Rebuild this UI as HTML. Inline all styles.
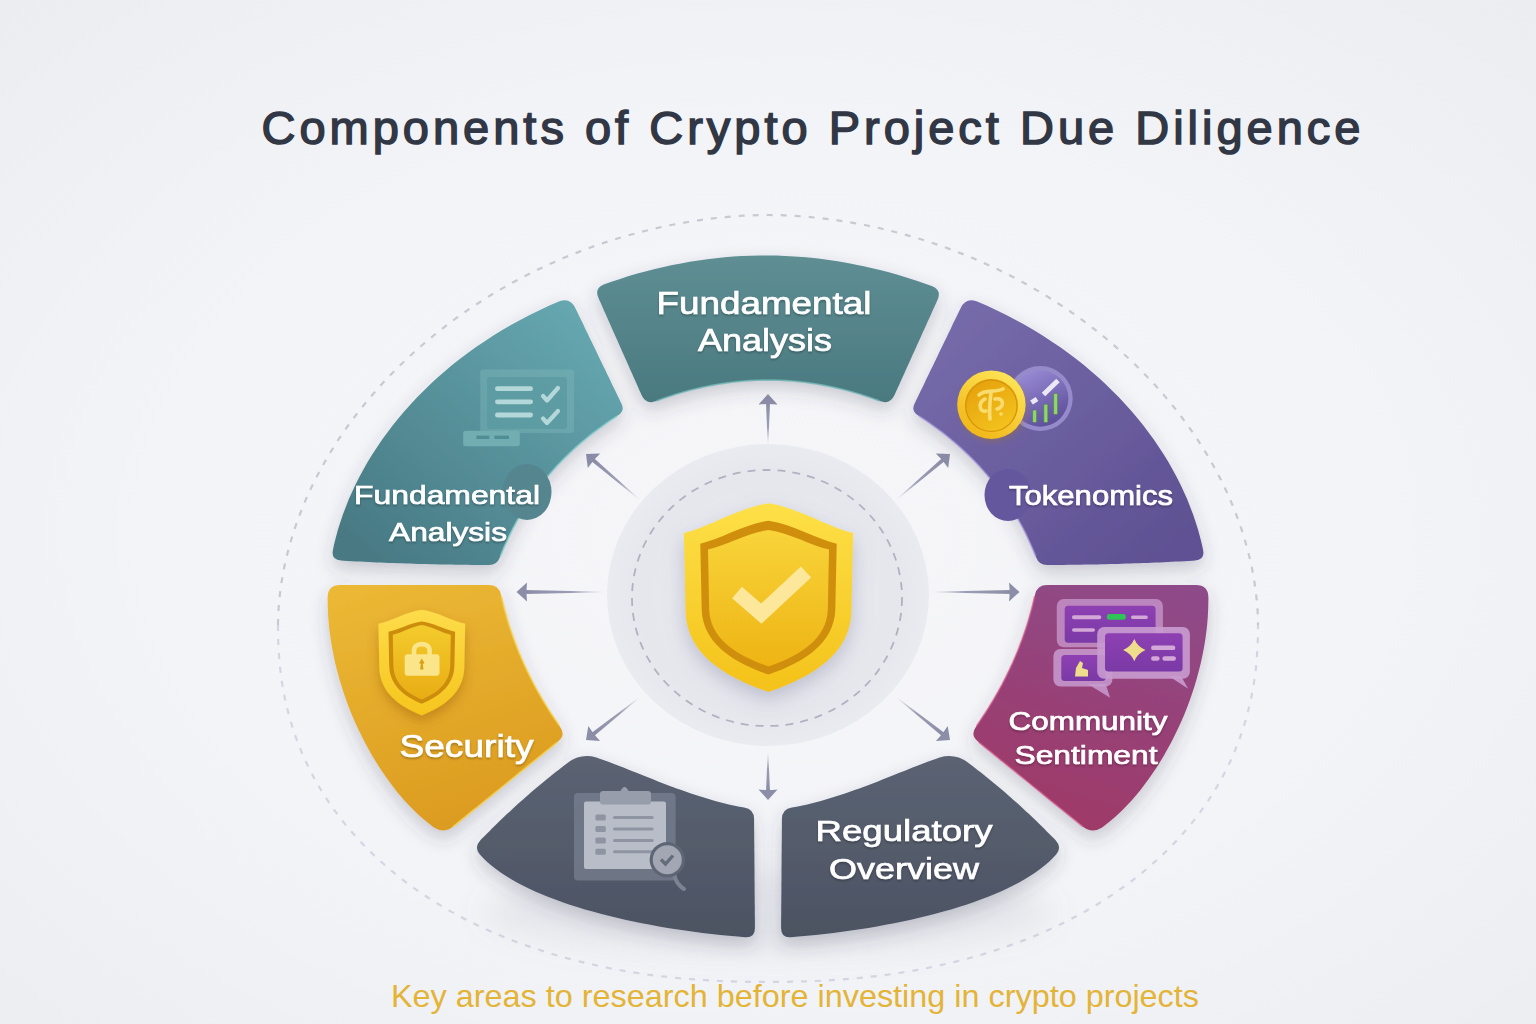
<!DOCTYPE html>
<html><head><meta charset="utf-8">
<style>
html,body{margin:0;padding:0;width:1536px;height:1024px;overflow:hidden;background:#f2f3f6;}
svg{display:block;font-family:"Liberation Sans", sans-serif;}
</style></head>
<body>
<svg width="1536" height="1024" viewBox="0 0 1536 1024">
<defs>
  <radialGradient id="bg" cx="50%" cy="52%" r="72%">
    <stop offset="0" stop-color="#f6f6f9"/>
    <stop offset="0.55" stop-color="#f3f4f7"/>
    <stop offset="1" stop-color="#ecedf1"/>
  </radialGradient>
  <filter id="sh" x="-20%" y="-20%" width="140%" height="150%">
    <feDropShadow dx="0" dy="8" stdDeviation="9" flood-color="#3a3f55" flood-opacity="0.24"/>
  </filter>
  <filter id="sh2" x="-30%" y="-30%" width="160%" height="160%">
    <feDropShadow dx="0" dy="8" stdDeviation="10" flood-color="#6b6f90" flood-opacity="0.35"/>
  </filter>
  <filter id="tsh" x="-10%" y="-30%" width="120%" height="160%">
    <feDropShadow dx="0" dy="1.5" stdDeviation="1" flood-color="#000" flood-opacity="0.3"/>
  </filter>
  <filter id="blur6"><feGaussianBlur stdDeviation="6"/></filter>
  <linearGradient id="gT" gradientUnits="userSpaceOnUse" x1="0" y1="257" x2="0" y2="403">
    <stop offset="0" stop-color="#5e8e93"/><stop offset="1" stop-color="#4a7980"/>
  </linearGradient>
  <linearGradient id="gTL" gradientUnits="userSpaceOnUse" x1="600" y1="310" x2="380" y2="560">
    <stop offset="0" stop-color="#67a9b2"/><stop offset="1" stop-color="#487a84"/>
  </linearGradient>
  <linearGradient id="gTR" gradientUnits="userSpaceOnUse" x1="936" y1="310" x2="1156" y2="560">
    <stop offset="0" stop-color="#776cab"/><stop offset="1" stop-color="#5f5193"/>
  </linearGradient>
  <linearGradient id="gL" gradientUnits="userSpaceOnUse" x1="340" y1="585" x2="420" y2="831">
    <stop offset="0" stop-color="#ecb935"/><stop offset="1" stop-color="#dc9c20"/>
  </linearGradient>
  <linearGradient id="gR" gradientUnits="userSpaceOnUse" x1="1196" y1="585" x2="1116" y2="831">
    <stop offset="0" stop-color="#8e4b8a"/><stop offset="1" stop-color="#9e3a69"/>
  </linearGradient>
  <linearGradient id="gB" x1="0" y1="0" x2="0" y2="1">
    <stop offset="0" stop-color="#5b6373"/><stop offset="1" stop-color="#4c5363"/>
  </linearGradient>
  <linearGradient id="gShield" x1="0" y1="0" x2="0" y2="1">
    <stop offset="0" stop-color="#fde047"/><stop offset="1" stop-color="#f4c21a"/>
  </linearGradient>
  <linearGradient id="gShieldIn" x1="0" y1="0" x2="0" y2="1">
    <stop offset="0" stop-color="#f8d43a"/><stop offset="1" stop-color="#eeb414"/>
  </linearGradient>
  <radialGradient id="gCenter" cx="50%" cy="50%" r="50%">
    <stop offset="0" stop-color="#eaebf0"/><stop offset="0.8" stop-color="#e6e7ed"/><stop offset="1" stop-color="#eaebf0"/>
  </radialGradient>
  <linearGradient id="gChart" x1="0.2" y1="0" x2="0.7" y2="1">
    <stop offset="0" stop-color="#9a8cd6"/><stop offset="1" stop-color="#5c4d98"/>
  </linearGradient>
  <linearGradient id="gCoin" x1="0.8" y1="0" x2="0.2" y2="1">
    <stop offset="0" stop-color="#fee75a"/><stop offset="1" stop-color="#f0b414"/>
  </linearGradient>
  <linearGradient id="gCoinIn" x1="0.2" y1="0" x2="0.8" y2="1">
    <stop offset="0" stop-color="#e5a10c"/><stop offset="1" stop-color="#f4c41e"/>
  </linearGradient>
  <linearGradient id="gShieldS" x1="0" y1="0" x2="0" y2="1">
    <stop offset="0" stop-color="#fddc4a"/><stop offset="1" stop-color="#f6c51d"/>
  </linearGradient>
  <linearGradient id="gShieldSIn" x1="0" y1="0" x2="0" y2="1">
    <stop offset="0" stop-color="#f3cb2c"/><stop offset="1" stop-color="#e9ad14"/>
  </linearGradient>
  <linearGradient id="gBub" x1="0" y1="0" x2="0" y2="1">
    <stop offset="0" stop-color="#8e40b2"/><stop offset="1" stop-color="#7a3aa6"/>
  </linearGradient>
  <filter id="sh3" x="-40%" y="-40%" width="180%" height="180%">
    <feDropShadow dx="0" dy="6" stdDeviation="6" flood-color="#8a4a00" flood-opacity="0.35"/>
  </filter>
<linearGradient id="ag0" gradientUnits="userSpaceOnUse" x1="768.0" y1="404.5" x2="768.0" y2="445.0"><stop offset="0" stop-color="#8c8ea8"/><stop offset="0.55" stop-color="#8c8ea8" stop-opacity="0.85"/><stop offset="1" stop-color="#8c8ea8" stop-opacity="0"/></linearGradient><linearGradient id="ag1" gradientUnits="userSpaceOnUse" x1="594.0" y1="460.8" x2="640.0" y2="500.0"><stop offset="0" stop-color="#8c8ea8"/><stop offset="0.55" stop-color="#8c8ea8" stop-opacity="0.85"/><stop offset="1" stop-color="#8c8ea8" stop-opacity="0"/></linearGradient><linearGradient id="ag2" gradientUnits="userSpaceOnUse" x1="942.0" y1="460.8" x2="896.0" y2="500.0"><stop offset="0" stop-color="#8c8ea8"/><stop offset="0.55" stop-color="#8c8ea8" stop-opacity="0.85"/><stop offset="1" stop-color="#8c8ea8" stop-opacity="0"/></linearGradient><linearGradient id="ag3" gradientUnits="userSpaceOnUse" x1="527.0" y1="592.0" x2="606.0" y2="592.0"><stop offset="0" stop-color="#8c8ea8"/><stop offset="0.55" stop-color="#8c8ea8" stop-opacity="0.85"/><stop offset="1" stop-color="#8c8ea8" stop-opacity="0"/></linearGradient><linearGradient id="ag4" gradientUnits="userSpaceOnUse" x1="1009.0" y1="592.0" x2="930.0" y2="592.0"><stop offset="0" stop-color="#8c8ea8"/><stop offset="0.55" stop-color="#8c8ea8" stop-opacity="0.85"/><stop offset="1" stop-color="#8c8ea8" stop-opacity="0"/></linearGradient><linearGradient id="ag5" gradientUnits="userSpaceOnUse" x1="594.2" y1="733.5" x2="640.0" y2="697.0"><stop offset="0" stop-color="#8c8ea8"/><stop offset="0.55" stop-color="#8c8ea8" stop-opacity="0.85"/><stop offset="1" stop-color="#8c8ea8" stop-opacity="0"/></linearGradient><linearGradient id="ag6" gradientUnits="userSpaceOnUse" x1="941.8" y1="733.5" x2="896.0" y2="697.0"><stop offset="0" stop-color="#8c8ea8"/><stop offset="0.55" stop-color="#8c8ea8" stop-opacity="0.85"/><stop offset="1" stop-color="#8c8ea8" stop-opacity="0"/></linearGradient><linearGradient id="ag7" gradientUnits="userSpaceOnUse" x1="768.0" y1="789.5" x2="768.0" y2="752.0"><stop offset="0" stop-color="#8c8ea8"/><stop offset="0.55" stop-color="#8c8ea8" stop-opacity="0.85"/><stop offset="1" stop-color="#8c8ea8" stop-opacity="0"/></linearGradient>
  <filter id="blur3" x="-50%" y="-50%" width="200%" height="200%"><feGaussianBlur stdDeviation="3"/></filter>
  <filter id="blur14" x="-50%" y="-100%" width="200%" height="300%"><feGaussianBlur stdDeviation="14"/></filter>
</defs>
<rect width="1536" height="1024" fill="url(#bg)"/>

<!-- title -->
<text x="811" y="144" font-size="47" fill="#313745" stroke="#313745" stroke-width="1.5" text-anchor="middle" textLength="1099" lengthAdjust="spacing">Components of Crypto Project Due Diligence</text>

<!-- outer dashed egg -->
<path d="M278.0,625.0 L278.1,618.5 L278.4,611.4 L278.9,604.2 L279.6,596.9 L280.5,589.4 L281.6,581.9 L282.9,574.4 L284.3,566.8 L286.0,559.2 L287.9,551.6 L290.0,544.0 L292.2,536.3 L294.7,528.7 L297.3,521.1 L300.2,513.5 L303.2,505.9 L306.4,498.3 L309.8,490.8 L313.4,483.3 L317.2,475.8 L321.1,468.4 L325.3,461.0 L329.6,453.7 L334.1,446.4 L338.7,439.2 L343.5,432.1 L348.5,425.0 L353.7,418.0 L359.0,411.0 L364.5,404.2 L370.2,397.4 L376.0,390.7 L381.9,384.0 L388.1,377.5 L394.3,371.1 L400.7,364.7 L407.3,358.5 L414.0,352.3 L420.8,346.3 L427.8,340.3 L434.9,334.5 L442.1,328.8 L449.4,323.2 L456.9,317.7 L464.5,312.3 L472.2,307.1 L480.0,302.0 L487.9,297.0 L495.9,292.1 L504.1,287.4 L512.3,282.8 L520.6,278.3 L529.0,274.0 L537.4,269.8 L546.0,265.8 L554.6,261.9 L563.3,258.1 L572.0,254.5 L580.9,251.1 L589.7,247.8 L598.6,244.6 L607.6,241.6 L616.6,238.8 L625.7,236.1 L634.7,233.6 L643.8,231.2 L652.9,229.0 L662.0,226.9 L671.2,225.0 L680.3,223.3 L689.4,221.7 L698.5,220.3 L707.5,219.1 L716.5,218.0 L725.5,217.1 L734.4,216.3 L743.1,215.7 L751.8,215.3 L760.2,215.1 L768.0,215.0 L775.8,215.1 L784.2,215.3 L792.9,215.7 L801.6,216.3 L810.5,217.1 L819.5,218.0 L828.5,219.1 L837.5,220.3 L846.6,221.7 L855.7,223.3 L864.8,225.0 L874.0,226.9 L883.1,229.0 L892.2,231.2 L901.3,233.6 L910.3,236.1 L919.4,238.8 L928.4,241.6 L937.4,244.6 L946.3,247.8 L955.1,251.1 L964.0,254.5 L972.7,258.1 L981.4,261.9 L990.0,265.8 L998.6,269.8 L1007.0,274.0 L1015.4,278.3 L1023.7,282.8 L1031.9,287.4 L1040.1,292.1 L1048.1,297.0 L1056.0,302.0 L1063.8,307.1 L1071.5,312.3 L1079.1,317.7 L1086.6,323.2 L1093.9,328.8 L1101.1,334.5 L1108.2,340.3 L1115.2,346.3 L1122.0,352.3 L1128.7,358.5 L1135.3,364.7 L1141.7,371.1 L1147.9,377.5 L1154.1,384.0 L1160.0,390.7 L1165.8,397.4 L1171.5,404.2 L1177.0,411.0 L1182.3,418.0 L1187.5,425.0 L1192.5,432.1 L1197.3,439.2 L1201.9,446.4 L1206.4,453.7 L1210.7,461.0 L1214.9,468.4 L1218.8,475.8 L1222.6,483.3 L1226.2,490.8 L1229.6,498.3 L1232.8,505.9 L1235.8,513.5 L1238.7,521.1 L1241.3,528.7 L1243.8,536.3 L1246.0,544.0 L1248.1,551.6 L1250.0,559.2 L1251.7,566.8 L1253.1,574.4 L1254.4,581.9 L1255.5,589.4 L1256.4,596.9 L1257.1,604.2 L1257.6,611.4 L1257.9,618.5 L1258.0,625.0" fill="none" stroke="#c8c9d3" stroke-width="2.2" stroke-dasharray="6 8"/>
<path d="M278.0,625.0 L278.1,635.0 L278.3,643.8 L278.8,652.2 L279.4,660.3 L280.1,668.2 L281.1,676.0 L282.2,683.6 L283.5,691.1 L284.9,698.5 L286.6,705.8 L288.4,713.0 L290.3,720.1 L292.5,727.2 L294.8,734.1 L297.2,741.0 L299.9,747.7 L302.6,754.5 L305.6,761.1 L308.7,767.6 L312.0,774.1 L315.5,780.5 L319.1,786.8 L322.9,793.0 L326.8,799.1 L330.9,805.2 L335.1,811.2 L339.5,817.1 L344.1,822.9 L348.8,828.6 L353.7,834.2 L358.7,839.8 L363.9,845.2 L369.2,850.6 L374.6,855.9 L380.3,861.0 L386.0,866.1 L391.9,871.1 L397.9,876.0 L404.1,880.8 L410.4,885.5 L416.9,890.1 L423.5,894.6 L430.2,899.0 L437.0,903.3 L444.0,907.5 L451.1,911.6 L458.4,915.6 L465.7,919.4 L473.2,923.2 L480.8,926.9 L488.6,930.4 L496.4,933.8 L504.4,937.2 L512.5,940.4 L520.7,943.5 L529.0,946.4 L537.4,949.3 L546.0,952.1 L554.6,954.7 L563.4,957.2 L572.2,959.6 L581.2,961.9 L590.3,964.0 L599.5,966.1 L608.8,968.0 L618.3,969.8 L627.8,971.5 L637.4,973.0 L647.2,974.5 L657.1,975.8 L667.1,976.9 L677.3,978.0 L687.6,978.9 L698.0,979.7 L708.7,980.4 L719.5,981.0 L730.7,981.4 L742.2,981.7 L754.2,981.9 L768.0,982.0 L781.8,981.9 L793.8,981.7 L805.3,981.4 L816.5,981.0 L827.3,980.4 L838.0,979.7 L848.4,978.9 L858.7,978.0 L868.9,976.9 L878.9,975.8 L888.8,974.5 L898.6,973.0 L908.2,971.5 L917.7,969.8 L927.2,968.0 L936.5,966.1 L945.7,964.0 L954.8,961.9 L963.8,959.6 L972.6,957.2 L981.4,954.7 L990.0,952.1 L998.6,949.3 L1007.0,946.4 L1015.3,943.5 L1023.5,940.4 L1031.6,937.2 L1039.6,933.8 L1047.4,930.4 L1055.2,926.9 L1062.8,923.2 L1070.3,919.4 L1077.6,915.6 L1084.9,911.6 L1092.0,907.5 L1099.0,903.3 L1105.8,899.0 L1112.5,894.6 L1119.1,890.1 L1125.6,885.5 L1131.9,880.8 L1138.1,876.0 L1144.1,871.1 L1150.0,866.1 L1155.7,861.0 L1161.4,855.9 L1166.8,850.6 L1172.1,845.2 L1177.3,839.8 L1182.3,834.2 L1187.2,828.6 L1191.9,822.9 L1196.5,817.1 L1200.9,811.2 L1205.1,805.2 L1209.2,799.1 L1213.1,793.0 L1216.9,786.8 L1220.5,780.5 L1224.0,774.1 L1227.3,767.6 L1230.4,761.1 L1233.4,754.5 L1236.1,747.7 L1238.8,741.0 L1241.2,734.1 L1243.5,727.2 L1245.7,720.1 L1247.6,713.0 L1249.4,705.8 L1251.1,698.5 L1252.5,691.1 L1253.8,683.6 L1254.9,676.0 L1255.9,668.2 L1256.6,660.3 L1257.2,652.2 L1257.7,643.8 L1257.9,635.0 L1258.0,625.0" fill="none" stroke="#d3d6e2" stroke-width="2.2" stroke-dasharray="6 8"/>

<!-- center -->
<ellipse cx="768" cy="595" rx="161" ry="151" fill="url(#gCenter)"/>
<ellipse cx="767" cy="598" rx="135" ry="128" fill="none" stroke="#afb2c0" stroke-width="1.8" stroke-dasharray="8 7"/>

<!-- arrows -->
<path d="M770.0,402.5 L768.3,445.0 L767.7,445.0 L766.0,402.5 Z" fill="url(#ag0)"/><path d="M768.0,394.0 L777.5,404.5 Q768.0,403.3 758.5,404.5 Z" fill="#8c8ea8"/><path d="M593.8,458.0 L640.2,499.8 L639.8,500.2 L591.2,461.0 Z" fill="url(#ag1)"/><path d="M586.0,454.0 L600.2,453.6 Q593.1,460.0 587.8,468.0 Z" fill="#8c8ea8"/><path d="M944.8,461.0 L896.2,500.2 L895.8,499.8 L942.2,458.0 Z" fill="url(#ag2)"/><path d="M950.0,454.0 L948.2,468.0 Q942.9,460.0 935.8,453.6 Z" fill="#8c8ea8"/><path d="M525.0,590.0 L606.0,591.7 L606.0,592.3 L525.0,594.0 Z" fill="url(#ag3)"/><path d="M516.5,592.0 L527.0,582.5 Q525.8,592.0 527.0,601.5 Z" fill="#8c8ea8"/><path d="M1011.0,594.0 L930.0,592.3 L930.0,591.7 L1011.0,590.0 Z" fill="url(#ag4)"/><path d="M1019.5,592.0 L1009.0,601.5 Q1010.2,592.0 1009.0,582.5 Z" fill="#8c8ea8"/><path d="M591.4,733.1 L639.8,696.8 L640.2,697.2 L593.9,736.3 Z" fill="url(#ag5)"/><path d="M586.0,740.0 L588.3,726.0 Q593.3,734.2 600.1,740.9 Z" fill="#8c8ea8"/><path d="M942.1,736.3 L895.8,697.2 L896.2,696.8 L944.6,733.1 Z" fill="url(#ag6)"/><path d="M950.0,740.0 L935.9,740.9 Q942.7,734.2 947.7,726.0 Z" fill="#8c8ea8"/><path d="M766.0,791.5 L767.7,752.0 L768.3,752.0 L770.0,791.5 Z" fill="url(#ag7)"/><path d="M768.0,800.0 L758.5,789.5 Q768.0,790.7 777.5,789.5 Z" fill="#8c8ea8"/>

<!-- soft ground shadow -->
<ellipse cx="768" cy="912" rx="285" ry="42" fill="#8d92ad" fill-opacity="0.14" filter="url(#blur14)"/>
<!-- segments -->
<g filter="url(#sh)">
<path d="M598.5,298.1 Q594.0,288.0 604.3,284.2 L611.4,281.7 620.1,278.9 628.8,276.1 637.5,273.6 646.2,271.2 654.9,269.0 663.6,267.0 672.3,265.1 681.0,263.4 689.7,261.8 698.4,260.5 707.1,259.3 715.8,258.2 724.5,257.3 733.2,256.6 741.9,256.1 750.6,255.7 759.3,255.5 768.0,255.5 776.7,255.6 785.4,255.9 794.1,256.4 802.8,257.0 811.5,257.8 820.2,258.8 828.9,260.0 837.6,261.3 846.3,262.7 855.0,264.4 863.7,266.2 872.4,268.2 881.1,270.3 889.8,272.6 898.5,275.1 907.2,277.7 915.9,280.6 924.6,283.5 931.7,286.1 Q942.0,290.0 937.5,300.0 L936.8,301.5 935.5,304.4 934.2,307.2 932.9,310.1 931.6,313.0 930.3,315.9 929.0,318.8 927.7,321.6 926.4,324.5 925.1,327.4 923.8,330.2 922.5,333.1 921.2,336.0 919.9,338.9 918.6,341.8 917.3,344.6 916.0,347.5 914.7,350.4 913.4,353.2 912.1,356.1 910.8,359.0 909.5,361.9 908.2,364.8 906.9,367.6 905.6,370.5 904.3,373.4 903.0,376.2 901.7,379.1 900.4,382.0 899.1,384.9 897.8,387.8 896.5,390.6 895.2,393.5 894.5,395.0 Q890.0,405.0 879.8,401.0 L877.8,400.2 871.7,398.1 865.6,396.0 859.5,394.1 853.4,392.2 847.3,390.6 841.2,389.0 835.1,387.6 829.0,386.2 822.9,385.1 816.8,384.0 810.7,383.1 804.6,382.2 798.5,381.6 792.4,381.0 786.3,380.6 780.2,380.3 774.1,380.1 768.0,380.0 761.9,380.1 755.8,380.2 749.7,380.6 743.6,381.0 737.5,381.6 731.4,382.2 725.3,383.1 719.2,384.0 713.1,385.1 707.0,386.2 700.9,387.6 694.8,389.0 688.7,390.6 682.6,392.2 676.5,394.1 670.4,396.0 664.3,398.1 658.2,400.2 656.2,401.0 Q646.0,405.0 641.5,394.9 L640.8,393.3 639.5,390.4 638.2,387.4 636.9,384.5 635.6,381.6 634.3,378.7 633.0,375.8 631.7,372.8 630.4,369.9 629.1,367.0 627.8,364.1 626.5,361.1 625.2,358.2 623.9,355.3 622.6,352.4 621.3,349.4 620.0,346.5 618.7,343.6 617.4,340.6 616.1,337.7 614.8,334.8 613.5,331.9 612.2,328.9 610.9,326.0 609.6,323.1 608.3,320.2 607.0,317.2 605.7,314.3 604.4,311.4 603.1,308.5 601.8,305.6 600.5,302.6 599.2,299.7 598.5,298.1 Z" fill="url(#gT)"/>
<path d="M558.9,301.5 Q570.0,297.0 575.2,307.8 L575.5,308.4 576.9,311.2 578.2,314.1 579.6,316.9 581.0,319.8 582.4,322.6 583.8,325.5 585.1,328.4 586.5,331.2 587.9,334.1 589.2,336.9 590.6,339.8 592.0,342.6 593.4,345.4 594.8,348.3 596.1,351.1 597.5,354.0 598.9,356.9 600.2,359.7 601.6,362.6 603.0,365.4 604.4,368.2 605.8,371.1 607.1,373.9 608.5,376.8 609.9,379.6 611.2,382.5 612.6,385.4 614.0,388.2 615.4,391.1 616.8,393.9 618.1,396.8 619.5,399.6 620.9,402.4 621.5,403.8 Q625.0,411.0 618.2,415.2 L615.8,416.8 611.4,419.7 607.0,422.7 602.7,425.8 598.4,428.9 594.2,432.0 590.1,435.2 586.1,438.5 582.1,441.8 578.2,445.2 574.4,448.6 570.7,452.1 567.0,455.6 563.4,459.1 559.9,462.8 556.4,466.4 553.0,470.2 549.7,473.9 546.5,477.8 543.3,481.6 540.2,485.6 537.2,489.5 534.3,493.6 531.4,497.6 528.6,501.8 525.9,506.0 523.2,510.2 520.6,514.5 518.1,518.8 515.7,523.2 513.3,527.6 511.0,532.1 508.8,536.7 506.7,541.3 504.6,545.9 502.6,550.6 500.6,555.4 499.8,557.5 Q497.0,565.0 489.0,565.0 L488.7,565.0 484.6,565.0 480.4,565.0 476.2,564.9 472.1,564.9 467.9,564.8 463.8,564.8 459.7,564.7 455.5,564.7 451.4,564.6 447.2,564.5 443.1,564.5 438.9,564.4 434.8,564.3 430.6,564.2 426.4,564.1 422.3,564.0 418.1,563.9 414.0,563.8 409.8,563.6 405.7,563.5 401.6,563.3 397.4,563.2 393.2,563.0 389.1,562.9 384.9,562.7 380.8,562.5 376.7,562.4 372.5,562.2 368.4,562.0 364.2,561.8 360.1,561.6 355.9,561.4 351.8,561.2 347.6,561.0 343.4,560.7 341.0,560.6 Q331.0,560.0 332.9,550.2 L334.0,544.8 335.9,537.2 338.0,529.6 340.4,522.0 343.0,514.3 345.9,506.7 348.9,499.1 352.3,491.6 355.8,484.0 359.6,476.5 363.7,469.0 367.9,461.6 372.4,454.2 377.2,446.9 382.2,439.6 387.4,432.4 392.8,425.3 398.5,418.2 404.4,411.2 410.5,404.4 416.9,397.6 423.5,390.9 430.3,384.2 437.3,377.8 444.6,371.4 452.1,365.1 459.8,359.0 467.8,353.0 476.0,347.1 484.4,341.4 493.0,335.8 501.9,330.3 510.9,325.1 520.2,319.9 529.7,315.0 539.5,310.2 549.4,305.6 558.9,301.5 Z" fill="url(#gTL)"/>
<path d="M977.1,301.5 Q966.0,297.0 960.8,307.8 L960.5,308.4 959.1,311.2 957.8,314.1 956.4,316.9 955.0,319.8 953.6,322.6 952.2,325.5 950.9,328.4 949.5,331.2 948.1,334.1 946.8,336.9 945.4,339.8 944.0,342.6 942.6,345.4 941.2,348.3 939.9,351.1 938.5,354.0 937.1,356.9 935.8,359.7 934.4,362.6 933.0,365.4 931.6,368.2 930.2,371.1 928.9,373.9 927.5,376.8 926.1,379.6 924.8,382.5 923.4,385.4 922.0,388.2 920.6,391.1 919.2,393.9 917.9,396.8 916.5,399.6 915.1,402.4 914.5,403.8 Q911.0,411.0 917.8,415.2 L920.2,416.8 924.6,419.7 929.0,422.7 933.3,425.8 937.6,428.9 941.8,432.0 945.9,435.2 949.9,438.5 953.9,441.8 957.8,445.2 961.6,448.6 965.3,452.1 969.0,455.6 972.6,459.1 976.1,462.8 979.6,466.4 983.0,470.2 986.3,473.9 989.5,477.8 992.7,481.6 995.8,485.6 998.8,489.5 1001.7,493.6 1004.6,497.6 1007.4,501.8 1010.1,506.0 1012.8,510.2 1015.4,514.5 1017.9,518.8 1020.3,523.2 1022.7,527.6 1025.0,532.1 1027.2,536.7 1029.3,541.3 1031.4,545.9 1033.4,550.6 1035.4,555.4 1036.2,557.5 Q1039.0,565.0 1047.0,565.0 L1047.3,565.0 1051.5,565.0 1055.6,565.0 1059.8,564.9 1063.9,564.9 1068.0,564.8 1072.2,564.8 1076.4,564.7 1080.5,564.7 1084.6,564.6 1088.8,564.5 1093.0,564.5 1097.1,564.4 1101.2,564.3 1105.4,564.2 1109.5,564.1 1113.7,564.0 1117.8,563.9 1122.0,563.8 1126.1,563.6 1130.3,563.5 1134.5,563.3 1138.6,563.2 1142.8,563.0 1146.9,562.9 1151.0,562.7 1155.2,562.5 1159.3,562.4 1163.5,562.2 1167.7,562.0 1171.8,561.8 1176.0,561.6 1180.1,561.4 1184.2,561.2 1188.4,561.0 1192.5,560.7 1195.0,560.6 Q1205.0,560.0 1203.1,550.2 L1202.0,544.8 1200.1,537.2 1198.0,529.6 1195.6,522.0 1193.0,514.3 1190.1,506.7 1187.1,499.1 1183.7,491.6 1180.2,484.0 1176.4,476.5 1172.3,469.0 1168.1,461.6 1163.6,454.2 1158.8,446.9 1153.8,439.6 1148.6,432.4 1143.2,425.3 1137.5,418.2 1131.6,411.2 1125.5,404.4 1119.1,397.6 1112.5,390.9 1105.7,384.2 1098.7,377.8 1091.4,371.4 1083.9,365.1 1076.2,359.0 1068.2,353.0 1060.0,347.1 1051.6,341.4 1043.0,335.8 1034.1,330.3 1025.1,325.1 1015.8,319.9 1006.3,315.0 996.5,310.2 986.6,305.6 977.1,301.5 Z" fill="url(#gTR)"/>
<path d="M327.6,597.0 Q328.0,585.0 340.0,585.0 L340.8,585.0 345.1,585.0 349.4,585.0 353.6,585.0 357.9,585.0 362.2,585.0 366.5,585.0 370.8,585.0 375.0,585.0 379.3,585.0 383.6,585.0 387.9,585.0 392.1,585.0 396.4,585.0 400.7,585.0 404.9,585.0 409.2,585.0 413.5,585.0 417.8,585.0 422.1,585.0 426.3,585.0 430.6,585.0 434.9,585.0 439.1,585.0 443.4,585.0 447.7,585.0 452.0,585.0 456.2,585.0 460.5,585.0 464.8,585.0 469.1,585.0 473.4,585.0 477.6,585.0 481.9,585.0 486.2,585.0 489.0,585.0 Q499.0,585.0 501.0,594.8 L501.5,596.9 502.4,600.9 503.3,604.8 504.3,608.8 505.4,612.7 506.5,616.6 507.6,620.5 508.8,624.4 510.0,628.2 511.3,632.1 512.7,635.9 514.0,639.8 515.5,643.6 516.9,647.4 518.4,651.2 520.0,655.0 521.6,658.7 523.2,662.5 524.9,666.2 526.7,670.0 528.5,673.7 530.3,677.4 532.2,681.1 534.1,684.8 536.1,688.4 538.1,692.1 540.2,695.7 542.3,699.4 544.5,703.0 546.7,706.6 548.9,710.2 551.2,713.8 553.6,717.3 556.0,720.9 558.4,724.4 560.1,726.9 Q566.0,735.0 558.2,741.3 L556.9,742.4 553.8,744.9 550.8,747.4 547.7,749.9 544.6,752.3 541.6,754.8 538.5,757.3 535.5,759.8 532.5,762.2 529.4,764.7 526.4,767.2 523.3,769.6 520.2,772.1 517.2,774.6 514.1,777.1 511.1,779.5 508.1,782.0 505.0,784.5 501.9,787.0 498.9,789.5 495.9,791.9 492.8,794.4 489.8,796.9 486.7,799.4 483.6,801.8 480.6,804.3 477.6,806.8 474.5,809.2 471.4,811.7 468.4,814.2 465.4,816.7 462.3,819.1 459.2,821.6 456.2,824.1 453.3,826.4 Q444.0,834.0 433.9,827.5 L430.7,825.1 426.3,821.6 421.8,817.8 417.4,813.8 413.0,809.6 408.7,805.1 404.4,800.4 400.1,795.5 395.9,790.4 391.8,785.1 387.7,779.5 383.7,773.8 379.8,768.0 376.0,761.9 372.2,755.7 368.6,749.3 365.0,742.8 361.6,736.1 358.3,729.3 355.2,722.4 352.1,715.4 349.2,708.2 346.5,701.0 343.9,693.6 341.5,686.2 339.3,678.7 337.2,671.1 335.3,663.4 333.6,655.7 332.1,648.0 330.8,640.2 329.7,632.3 328.8,624.5 328.2,616.6 327.8,608.7 327.6,600.8 327.6,597.0 Z" fill="url(#gL)"/>
<path d="M1208.4,597.0 Q1208.0,585.0 1196.0,585.0 L1195.2,585.0 1190.9,585.0 1186.6,585.0 1182.3,585.0 1178.1,585.0 1173.8,585.0 1169.5,585.0 1165.2,585.0 1161.0,585.0 1156.7,585.0 1152.4,585.0 1148.2,585.0 1143.9,585.0 1139.6,585.0 1135.3,585.0 1131.0,585.0 1126.8,585.0 1122.5,585.0 1118.2,585.0 1114.0,585.0 1109.7,585.0 1105.4,585.0 1101.1,585.0 1096.8,585.0 1092.6,585.0 1088.3,585.0 1084.0,585.0 1079.8,585.0 1075.5,585.0 1071.2,585.0 1066.9,585.0 1062.7,585.0 1058.4,585.0 1054.1,585.0 1049.8,585.0 1047.0,585.0 Q1037.0,585.0 1035.0,594.8 L1034.5,596.9 1033.6,600.9 1032.7,604.8 1031.7,608.8 1030.6,612.7 1029.5,616.6 1028.4,620.5 1027.2,624.4 1026.0,628.2 1024.7,632.1 1023.3,635.9 1022.0,639.8 1020.5,643.6 1019.1,647.4 1017.6,651.2 1016.0,655.0 1014.4,658.7 1012.8,662.5 1011.1,666.2 1009.3,670.0 1007.5,673.7 1005.7,677.4 1003.8,681.1 1001.9,684.8 999.9,688.4 997.9,692.1 995.8,695.7 993.7,699.4 991.5,703.0 989.3,706.6 987.1,710.2 984.8,713.8 982.4,717.3 980.0,720.9 977.6,724.4 975.9,726.9 Q970.0,735.0 977.8,741.3 L979.1,742.4 982.2,744.9 985.2,747.4 988.3,749.9 991.4,752.3 994.4,754.8 997.5,757.3 1000.5,759.8 1003.5,762.2 1006.6,764.7 1009.6,767.2 1012.7,769.6 1015.8,772.1 1018.8,774.6 1021.9,777.1 1024.9,779.5 1028.0,782.0 1031.0,784.5 1034.0,787.0 1037.1,789.5 1040.2,791.9 1043.2,794.4 1046.2,796.9 1049.3,799.4 1052.3,801.8 1055.4,804.3 1058.5,806.8 1061.5,809.2 1064.5,811.7 1067.6,814.2 1070.7,816.7 1073.7,819.1 1076.8,821.6 1079.8,824.1 1082.7,826.4 Q1092.0,834.0 1102.1,827.5 L1105.3,825.1 1109.7,821.6 1114.2,817.8 1118.6,813.8 1123.0,809.6 1127.3,805.1 1131.6,800.4 1135.9,795.5 1140.1,790.4 1144.2,785.1 1148.3,779.5 1152.3,773.8 1156.2,768.0 1160.0,761.9 1163.8,755.7 1167.4,749.3 1171.0,742.8 1174.4,736.1 1177.7,729.3 1180.8,722.4 1183.9,715.4 1186.8,708.2 1189.5,701.0 1192.1,693.6 1194.5,686.2 1196.7,678.7 1198.8,671.1 1200.7,663.4 1202.4,655.7 1203.9,648.0 1205.2,640.2 1206.3,632.3 1207.2,624.5 1207.8,616.6 1208.2,608.7 1208.4,600.8 1208.4,597.0 Z" fill="url(#gR)"/>
<path d="M568.1,762.5 Q581.0,753.0 596.4,757.5 L597.0,757.7 600.5,758.9 604.1,760.2 607.8,761.5 611.6,762.9 615.5,764.4 619.4,766.0 623.5,767.6 627.6,769.2 631.8,770.9 636.0,772.6 640.3,774.3 644.7,776.0 649.1,777.8 653.6,779.6 658.1,781.4 662.7,783.2 667.3,784.9 672.0,786.7 676.7,788.4 681.4,790.1 686.2,791.8 691.0,793.5 695.8,795.1 700.6,796.6 705.5,798.1 710.3,799.6 715.2,801.0 720.0,802.3 724.9,803.5 729.8,804.7 734.7,805.7 739.5,806.7 744.1,807.5 Q754.0,809.0 754.1,819.0 L754.1,821.9 754.1,825.1 754.1,828.4 754.2,831.6 754.2,834.8 754.2,838.0 754.2,841.2 754.3,844.5 754.3,847.7 754.3,850.9 754.4,854.1 754.4,857.4 754.4,860.6 754.4,863.8 754.5,867.0 754.5,870.3 754.5,873.5 754.5,876.7 754.5,880.0 754.6,883.2 754.6,886.4 754.6,889.6 754.6,892.9 754.7,896.1 754.7,899.3 754.7,902.5 754.8,905.8 754.8,909.0 754.8,912.2 754.8,915.4 754.9,918.6 754.9,921.9 754.9,925.1 754.9,928.0 Q755.0,938.0 745.0,937.2 L737.7,936.6 728.9,935.8 720.2,934.9 711.4,934.0 702.6,932.9 693.8,931.8 685.1,930.6 676.3,929.2 667.6,927.9 659.0,926.4 650.4,924.8 641.9,923.2 633.4,921.5 625.0,919.7 616.8,917.8 608.6,915.8 600.6,913.7 592.7,911.6 584.9,909.4 577.2,907.1 569.8,904.7 562.5,902.2 555.3,899.6 548.4,897.0 541.7,894.2 535.1,891.4 528.8,888.5 522.8,885.5 516.9,882.5 511.3,879.3 506.0,876.0 501.0,872.7 496.2,869.3 491.7,865.8 487.5,862.2 483.6,858.5 480.1,854.8 479.5,854.1 Q474.0,847.0 480.2,840.5 L481.5,839.1 484.1,836.5 486.6,833.9 489.2,831.4 491.7,828.8 494.3,826.3 496.9,823.8 499.4,821.2 502.0,818.8 504.6,816.3 507.2,813.8 509.9,811.4 512.5,808.9 515.1,806.5 517.8,804.1 520.4,801.7 523.1,799.4 525.8,797.0 528.4,794.7 531.1,792.3 533.8,790.0 536.5,787.7 539.2,785.4 542.0,783.2 544.7,780.9 547.4,778.7 550.2,776.5 552.9,774.2 555.7,772.1 558.5,769.9 561.3,767.7 564.1,765.6 566.9,763.4 568.1,762.5 Z" fill="url(#gB)"/>
<path d="M967.9,762.5 Q955.0,753.0 939.6,757.5 L939.0,757.7 935.5,758.9 931.9,760.2 928.2,761.5 924.4,762.9 920.5,764.4 916.6,766.0 912.5,767.6 908.4,769.2 904.2,770.9 900.0,772.6 895.7,774.3 891.3,776.0 886.9,777.8 882.4,779.6 877.9,781.4 873.3,783.2 868.7,784.9 864.0,786.7 859.3,788.4 854.6,790.1 849.8,791.8 845.0,793.5 840.2,795.1 835.4,796.6 830.5,798.1 825.7,799.6 820.8,801.0 816.0,802.3 811.1,803.5 806.2,804.7 801.3,805.7 796.5,806.7 791.9,807.5 Q782.0,809.0 781.9,819.0 L781.9,821.9 781.9,825.1 781.9,828.4 781.8,831.6 781.8,834.8 781.8,838.0 781.8,841.2 781.7,844.5 781.7,847.7 781.7,850.9 781.6,854.1 781.6,857.4 781.6,860.6 781.6,863.8 781.5,867.0 781.5,870.3 781.5,873.5 781.5,876.7 781.5,880.0 781.4,883.2 781.4,886.4 781.4,889.6 781.4,892.9 781.3,896.1 781.3,899.3 781.3,902.5 781.2,905.8 781.2,909.0 781.2,912.2 781.2,915.4 781.1,918.6 781.1,921.9 781.1,925.1 781.1,928.0 Q781.0,938.0 791.0,937.2 L798.3,936.6 807.1,935.8 815.8,934.9 824.6,934.0 833.4,932.9 842.2,931.8 850.9,930.6 859.7,929.2 868.4,927.9 877.0,926.4 885.6,924.8 894.1,923.2 902.6,921.5 911.0,919.7 919.2,917.8 927.4,915.8 935.4,913.7 943.3,911.6 951.1,909.4 958.8,907.1 966.2,904.7 973.5,902.2 980.7,899.6 987.6,897.0 994.3,894.2 1000.9,891.4 1007.2,888.5 1013.2,885.5 1019.1,882.5 1024.7,879.3 1030.0,876.0 1035.0,872.7 1039.8,869.3 1044.3,865.8 1048.5,862.2 1052.4,858.5 1055.9,854.8 1056.5,854.1 Q1062.0,847.0 1055.8,840.5 L1054.5,839.1 1051.9,836.5 1049.4,833.9 1046.8,831.4 1044.3,828.8 1041.7,826.3 1039.1,823.8 1036.6,821.2 1034.0,818.8 1031.4,816.3 1028.8,813.8 1026.1,811.4 1023.5,808.9 1020.9,806.5 1018.2,804.1 1015.6,801.7 1012.9,799.4 1010.2,797.0 1007.6,794.7 1004.9,792.3 1002.2,790.0 999.5,787.7 996.8,785.4 994.0,783.2 991.3,780.9 988.6,778.7 985.8,776.5 983.1,774.2 980.3,772.1 977.5,769.9 974.7,767.7 971.9,765.6 969.1,763.4 967.9,762.5 Z" fill="url(#gB)"/>
</g>
<g fill="none" stroke-width="1.6" stroke-linecap="round">
<path d="M878.8,400.6 L877.8,400.2 L871.7,398.1 L865.6,396.0 L859.5,394.1 L853.4,392.2 L847.3,390.6 L841.2,389.0 L835.1,387.6 L829.0,386.2 L822.9,385.1 L816.8,384.0 L810.7,383.1 L804.6,382.2 L798.5,381.6 L792.4,381.0 L786.3,380.6 L780.2,380.3 L774.1,380.1 L768.0,380.0 L761.9,380.1 L755.8,380.2 L749.7,380.6 L743.6,381.0 L737.5,381.6 L731.4,382.2 L725.3,383.1 L719.2,384.0 L713.1,385.1 L707.0,386.2 L700.9,387.6 L694.8,389.0 L688.7,390.6 L682.6,392.2 L676.5,394.1 L670.4,396.0 L664.3,398.1 L658.2,400.2 L657.2,400.6" stroke="#6fb5b5" stroke-opacity="0.8"/>
<path d="M616.5,416.3 L615.8,416.8 L611.4,419.7 L607.0,422.7 L602.7,425.8 L598.4,428.9 L594.2,432.0 L590.1,435.2 L586.1,438.5 L582.1,441.8 L578.2,445.2 L574.4,448.6 L570.7,452.1 L567.0,455.6 L563.4,459.1 L559.9,462.8 L556.4,466.4 L553.0,470.2 L549.7,473.9 L546.5,477.8 L543.3,481.6 L540.2,485.6 L537.2,489.5 L534.3,493.6 L531.4,497.6 L528.6,501.8 L525.9,506.0 L523.2,510.2 L520.6,514.5 L518.1,518.8 L515.7,523.2 L513.3,527.6 L511.0,532.1 L508.8,536.7 L506.7,541.3 L504.6,545.9 L502.6,550.6 L500.6,555.4 L500.5,555.6" stroke="#7dcaca" stroke-opacity="0.8"/>
<path d="M919.5,416.3 L920.2,416.8 L924.6,419.7 L929.0,422.7 L933.3,425.8 L937.6,428.9 L941.8,432.0 L945.9,435.2 L949.9,438.5 L953.9,441.8 L957.8,445.2 L961.6,448.6 L965.3,452.1 L969.0,455.6 L972.6,459.1 L976.1,462.8 L979.6,466.4 L983.0,470.2 L986.3,473.9 L989.5,477.8 L992.7,481.6 L995.8,485.6 L998.8,489.5 L1001.7,493.6 L1004.6,497.6 L1007.4,501.8 L1010.1,506.0 L1012.8,510.2 L1015.4,514.5 L1017.9,518.8 L1020.3,523.2 L1022.7,527.6 L1025.0,532.1 L1027.2,536.7 L1029.3,541.3 L1031.4,545.9 L1033.4,550.6 L1035.4,555.4 L1035.5,555.6" stroke="#a596de" stroke-opacity="0.7"/>
<path d="M501.4,596.8 L501.5,596.9 L502.4,600.9 L503.3,604.8 L504.3,608.8 L505.4,612.7 L506.5,616.6 L507.6,620.5 L508.8,624.4 L510.0,628.2 L511.3,632.1 L512.7,635.9 L514.0,639.8 L515.5,643.6 L516.9,647.4 L518.4,651.2 L520.0,655.0 L521.6,658.7 L523.2,662.5 L524.9,666.2 L526.7,670.0 L528.5,673.7 L530.3,677.4 L532.2,681.1 L534.1,684.8 L536.1,688.4 L538.1,692.1 L540.2,695.7 L542.3,699.4 L544.5,703.0 L546.7,706.6 L548.9,710.2 L551.2,713.8 L553.6,717.3 L556.0,720.9 L558.4,724.4 L559.0,725.3 M556.7,742.6 L553.8,744.9 L550.8,747.4 L547.7,749.9 L544.6,752.3 L541.6,754.8 L538.5,757.3 L535.5,759.8 L532.5,762.2 L529.4,764.7 L526.4,767.2 L523.3,769.6 L520.2,772.1 L517.2,774.6 L514.1,777.1 L511.1,779.5 L508.1,782.0 L505.0,784.5 L501.9,787.0 L498.9,789.5 L495.9,791.9 L492.8,794.4 L489.8,796.9 L486.7,799.4 L483.6,801.8 L480.6,804.3 L477.6,806.8 L474.5,809.2 L471.4,811.7 L468.4,814.2 L465.4,816.7 L462.3,819.1 L459.2,821.6 L456.2,824.1 L453.3,826.4" stroke="#f7d040" stroke-opacity="0.8"/>
<path d="M1034.6,596.8 L1034.5,596.9 L1033.6,600.9 L1032.7,604.8 L1031.7,608.8 L1030.6,612.7 L1029.5,616.6 L1028.4,620.5 L1027.2,624.4 L1026.0,628.2 L1024.7,632.1 L1023.3,635.9 L1022.0,639.8 L1020.5,643.6 L1019.1,647.4 L1017.6,651.2 L1016.0,655.0 L1014.4,658.7 L1012.8,662.5 L1011.1,666.2 L1009.3,670.0 L1007.5,673.7 L1005.7,677.4 L1003.8,681.1 L1001.9,684.8 L999.9,688.4 L997.9,692.1 L995.8,695.7 L993.7,699.4 L991.5,703.0 L989.3,706.6 L987.1,710.2 L984.8,713.8 L982.4,717.3 L980.0,720.9 L977.6,724.4 L977.0,725.3 M979.3,742.6 L982.2,744.9 L985.2,747.4 L988.3,749.9 L991.4,752.3 L994.4,754.8 L997.5,757.3 L1000.5,759.8 L1003.5,762.2 L1006.6,764.7 L1009.6,767.2 L1012.7,769.6 L1015.8,772.1 L1018.8,774.6 L1021.9,777.1 L1024.9,779.5 L1028.0,782.0 L1031.0,784.5 L1034.0,787.0 L1037.1,789.5 L1040.2,791.9 L1043.2,794.4 L1046.2,796.9 L1049.3,799.4 L1052.3,801.8 L1055.4,804.3 L1058.5,806.8 L1061.5,809.2 L1064.5,811.7 L1067.6,814.2 L1070.7,816.7 L1073.7,819.1 L1076.8,821.6 L1079.8,824.1 L1082.7,826.4" stroke="#d9588c" stroke-opacity="0.7"/>
</g>
<ellipse cx="527" cy="492" rx="24.5" ry="28" fill="#55868f"/>
<ellipse cx="1008" cy="495" rx="23.5" ry="26" fill="#65579d"/>

<!-- center shield -->
<g filter="url(#sh2)">
<path d="M768.5,503.3 C738.9,507.8 709.3,527.1 683.9,533.0 L685.6,613.0 C687.3,652.5 722.0,676.2 768.5,692.0 C815.0,676.2 849.7,652.5 851.4,613.0 L853.1,533.0 C827.7,527.1 798.1,507.8 768.5,503.3 Z" fill="url(#gShield)"/>
</g>
<path d="M768.5,520.8 C744.6,524.2 720.8,539.1 700.3,543.7 L701.7,610.0 C703.0,642.3 731.0,661.7 768.5,674.6 C806.0,661.7 834.0,642.3 835.3,610.0 L836.7,543.7 C816.2,539.1 792.4,524.2 768.5,520.8 Z" fill="#cf8f0c"/>
<path d="M768.5,530.0 C747.3,532.9 726.1,545.6 708.0,549.5 L709.2,610.0 C710.4,638.2 735.2,655.1 768.5,666.4 C801.8,655.1 826.6,638.2 827.8,610.0 L829.0,549.5 C810.9,545.6 789.7,532.9 768.5,530.0 Z" fill="url(#gShieldIn)"/>
<path d="M737,592.5 L761.3,613.6 L806,572" fill="none" stroke="#fce79a" stroke-width="15" stroke-linecap="butt" stroke-linejoin="miter"/>

<!-- icon: document (top-left) -->
<g>
<rect x="480.3" y="369.6" width="93.7" height="63.4" rx="3" fill="#7cb6b9" fill-opacity="0.45"/>
<rect x="487" y="377" width="80" height="52" rx="3" fill="#5a9aa0" fill-opacity="0.8"/>
<g fill="#b4d8d9">
<rect x="495" y="386.3" width="38" height="4.8" rx="2.4"/>
<rect x="495" y="399.4" width="38" height="4.8" rx="2.4"/>
<rect x="495" y="412.6" width="38" height="4.8" rx="2.4"/>
</g>
<g fill="none" stroke="#b4d8d9" stroke-width="4.2" stroke-linecap="round" stroke-linejoin="round">
<path d="M543,396 L547,400.5 L558,388"/>
<path d="M543,418.5 L547,423 L558,411"/>
</g>
<rect x="463.2" y="430.7" width="56.6" height="15.6" rx="2.5" fill="#72adb1"/>
<rect x="476.4" y="435.6" width="13" height="3.4" fill="#4f8e94"/>
<rect x="494.4" y="435.6" width="14.6" height="3.4" fill="#4f8e94"/>
</g>

<!-- icon: coin + chart (top-right) -->
<g>
<circle cx="1040.2" cy="398.5" r="32.5" fill="#958bcb"/>
<circle cx="1040.2" cy="398.5" r="28.2" fill="url(#gChart)"/>
<g fill="#8fd66c" stroke="#4d7a4a" stroke-width="0.6">
<rect x="1032.6" y="410" width="4" height="12.5" rx="1"/>
<rect x="1043.8" y="404.2" width="4" height="18.3" rx="1"/>
<rect x="1053.6" y="393.5" width="4" height="21" rx="1"/>
</g>
<path d="M1031.5,402.5 L1037,399 M1043.5,394.5 L1058,380.5" stroke="#ece8f6" stroke-width="5" fill="none"/>
<circle cx="993" cy="408" r="33" fill="#b07a10" fill-opacity="0.35" filter="url(#blur3)"/>
<circle cx="991.4" cy="404.7" r="34.2" fill="url(#gCoin)"/>
<circle cx="991.4" cy="405.5" r="26.5" fill="#d9960b"/>
<circle cx="991.4" cy="405.8" r="25" fill="url(#gCoinIn)"/>
<g fill="none" stroke="#f9dc6e" stroke-width="3.6" stroke-linecap="round" stroke-linejoin="round">
<path d="M979,395 C985,389 995,393 1003,389"/>
<path d="M991,392 C990,401 989,410 990,419"/>
<path d="M985,399 C978,402 979,413 986,411"/>
<path d="M995,399 C1004,397 1005,407 997,409"/>
</g>
<circle cx="1001" cy="414" r="1.8" fill="#f9dc6e"/>
</g>

<!-- icon: shield lock (left) -->
<g filter="url(#sh3)">
<path d="M421.8,609.8 C406.6,611.9 391.4,621.0 378.4,623.8 L379.3,668.0 C380.1,691.7 397.9,705.9 421.8,715.4 C445.7,705.9 463.5,691.7 464.3,668.0 L465.2,623.8 C452.2,621.0 437.0,611.9 421.8,609.8 Z" fill="url(#gShieldS)"/>
</g>
<path d="M421.8,621.4 C410.1,622.9 398.5,629.6 388.5,631.7 L389.2,666.0 C389.8,684.9 403.5,696.2 421.8,703.8 C440.1,696.2 453.8,684.9 454.4,666.0 L455.1,631.7 C445.1,629.6 433.5,622.9 421.8,621.4 Z" fill="#cc8d0c"/>
<path d="M421.8,625.0 C411.7,626.5 401.5,632.8 392.8,634.8 L393.4,666.0 C394.0,682.8 405.9,692.8 421.8,699.5 C437.8,692.8 449.6,682.8 450.2,666.0 L450.8,634.8 C442.1,632.8 431.9,626.5 421.8,625.0 Z" fill="url(#gShieldSIn)"/>
<path d="M414,655 L414,650.5 C414,642 429.6,642 429.6,650.5 L429.6,655" fill="none" stroke="#fbe58a" stroke-width="4.6"/>
<rect x="404.7" y="654.3" width="34.8" height="21.4" rx="3" fill="#fbe58a"/>
<path d="M421.8,658.6 L424.5,663 L422.8,664 L423.5,669.6 L420.1,669.6 L420.8,664 L419.1,663 Z" fill="#d9a21a"/>

<!-- icon: chat bubbles (right) -->
<g>
<rect x="1056.8" y="599" width="106.1" height="48.3" rx="7" fill="#c99bd0" fill-opacity="0.75"/>
<rect x="1064.7" y="605.7" width="90.9" height="37.1" rx="3.5" fill="url(#gBub)"/>
<rect x="1072" y="615.3" width="29.2" height="3.9" rx="1.9" fill="#d3a8d8"/>
<rect x="1106.8" y="614.1" width="19.1" height="5.7" rx="2.8" fill="#2fc556"/>
<rect x="1131" y="615.6" width="16.8" height="3.4" rx="1.7" fill="#d3a8d8"/>
<rect x="1072" y="628.2" width="23" height="3.6" rx="1.8" fill="#d3a8d8"/>
<path d="M1087.7,684 L1110.1,697.8 L1105.7,684 Z" fill="#c99bd0" fill-opacity="0.85"/>
<rect x="1053.4" y="649" width="59" height="37.6" rx="7" fill="#c99bd0" fill-opacity="0.85"/>
<rect x="1061.3" y="655.1" width="44.4" height="25.9" rx="3.5" fill="url(#gBub)"/>
<path d="M1075,676.5 L1076,668 L1080,661 L1083,663 L1082,668 L1088,670 L1088,676.5 Z" fill="#eedd8a"/>
<path d="M1168.6,676 L1188.2,688.8 L1181,676 Z" fill="#c99bd0" fill-opacity="0.9"/>
<rect x="1097.2" y="627" width="92.7" height="51.7" rx="7" fill="#c99bd0" fill-opacity="0.9"/>
<rect x="1105" y="633.2" width="77.6" height="38.2" rx="3.5" fill="url(#gBub)"/>
<path d="M1134.3,639 Q1137.5,646.5 1145.5,650.1 Q1137.5,653.7 1134.3,661.2 Q1131.1,653.7 1123.1,650.1 Q1131.1,646.5 1134.3,639 Z" fill="#eedd8a"/>
<rect x="1151.1" y="645.6" width="24.2" height="4.5" rx="2.2" fill="#d3a8d8"/>
<rect x="1151.1" y="656.3" width="8.5" height="4.5" rx="2.2" fill="#d3a8d8"/>
<rect x="1162.4" y="656.3" width="13.5" height="4.5" rx="2.2" fill="#d3a8d8"/>
</g>

<!-- icon: clipboard (bottom-left) -->
<g>
<rect x="574" y="793" width="101.6" height="87.6" rx="4" fill="#737b8c" fill-opacity="0.85"/>
<rect x="584" y="801.5" width="82" height="67.5" rx="2" fill="#b9bdc8"/>
<rect x="600" y="791" width="51" height="13.6" rx="3" fill="#979daa"/>
<path d="M620,792 Q624.6,782 629,792 Z" fill="#979daa"/>
<g fill="#8e94a1">
<rect x="595.4" y="814.5" width="10.4" height="6" rx="1.5"/>
<rect x="595.4" y="825.9" width="10.4" height="6" rx="1.5"/>
<rect x="595.4" y="837.5" width="10.4" height="6" rx="1.5"/>
<rect x="595.4" y="848.8" width="10.4" height="6" rx="1.5"/>
<rect x="613" y="816" width="40.7" height="3" rx="1.5"/>
<rect x="613" y="827.4" width="40.7" height="3" rx="1.5"/>
<rect x="613" y="839" width="40.7" height="3" rx="1.5"/>
<rect x="613" y="850.3" width="40.7" height="3" rx="1.5"/>
</g>
<path d="M674,874 Q676,884 684,889" stroke="#7c8392" stroke-width="4" fill="none" stroke-linecap="round"/>
<circle cx="667.3" cy="859.8" r="17.7" fill="#5e6676"/>
<circle cx="667.3" cy="859.8" r="14.5" fill="#a2a7b3"/>
<path d="M661,859.5 L665.5,864 L673,855.5" stroke="#646b7a" stroke-width="3.4" fill="none"/>
</g>

<!-- labels -->
<g fill="#ffffff" stroke="#ffffff" stroke-width="0.7" text-anchor="middle" filter="url(#tsh)">
<text x="764" y="313.5" font-size="31" textLength="215" lengthAdjust="spacingAndGlyphs">Fundamental</text>
<text x="765" y="351" font-size="31" textLength="134" lengthAdjust="spacingAndGlyphs">Analysis</text>
<text x="447" y="504.4" font-size="26.5" textLength="186" lengthAdjust="spacingAndGlyphs">Fundamental</text>
<text x="448" y="540.6" font-size="26.5" textLength="118" lengthAdjust="spacingAndGlyphs">Analysis</text>
<text x="1091" y="505" font-size="27" textLength="164" lengthAdjust="spacingAndGlyphs">Tokenomics</text>
<text x="466.5" y="757" font-size="31" textLength="134" lengthAdjust="spacingAndGlyphs">Security</text>
<text x="1088" y="730" font-size="26.5" textLength="159" lengthAdjust="spacingAndGlyphs">Community</text>
<text x="1086" y="763.6" font-size="26.5" textLength="143" lengthAdjust="spacingAndGlyphs">Sentiment</text>
<text x="904" y="841" font-size="30" textLength="177" lengthAdjust="spacingAndGlyphs">Regulatory</text>
<text x="904" y="879" font-size="30" textLength="150" lengthAdjust="spacingAndGlyphs">Overview</text>
</g>

<!-- subtitle -->
<text x="795" y="1007" font-size="31.5" fill="#e3b436" text-anchor="middle" textLength="808" lengthAdjust="spacingAndGlyphs">Key areas to research before investing in crypto projects</text>
</svg>
</body></html>
